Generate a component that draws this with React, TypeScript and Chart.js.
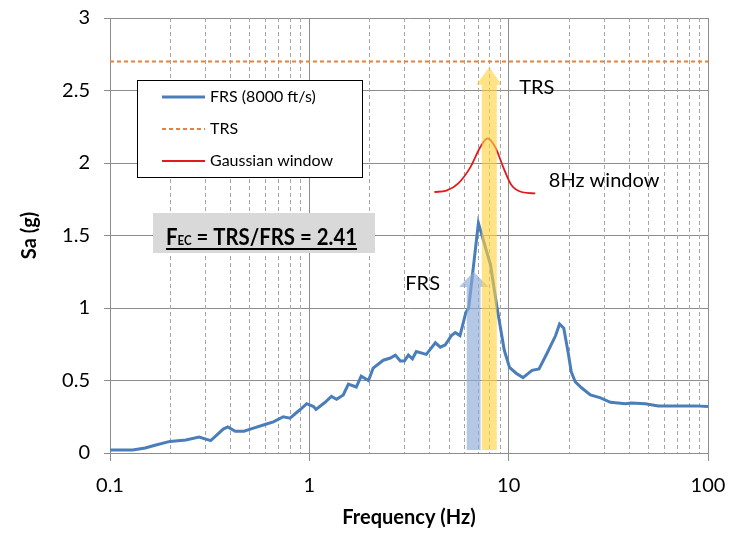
import React, { useEffect, useRef } from "react";
import { Chart, registerables } from "chart.js";
Chart.register(...registerables);

// ---------------- data ----------------
const frsFreq = [0.1, 0.13, 0.15, 0.17, 0.2, 0.24, 0.28, 0.32, 0.37, 0.39, 0.425, 0.47, 0.52, 0.61, 0.66, 0.74, 0.8, 0.9, 0.97, 1.05, 1.08, 1.2, 1.29, 1.37, 1.48, 1.57, 1.72, 1.82, 1.98, 2.09, 2.35, 2.55, 2.7, 2.86, 3.0, 3.14, 3.29, 3.44, 3.86, 4.29, 4.54, 4.8, 5.16, 5.4, 5.7, 6.1, 6.3, 7.05, 8.1, 8.75, 9.5, 10.1, 10.9, 11.8, 13.1, 14.2, 15.6, 17.2, 18.0, 18.9, 19.9, 20.6, 21.6, 23.2, 25.7, 28.9, 32.4, 38.5, 41.3, 48.5, 56.3, 68.5, 86.3, 100];
const frsSa = [0.02, 0.02, 0.035, 0.055, 0.08, 0.09, 0.11, 0.085, 0.165, 0.18, 0.15, 0.15, 0.17, 0.2, 0.215, 0.25, 0.24, 0.3, 0.34, 0.32, 0.3, 0.35, 0.39, 0.37, 0.4, 0.475, 0.455, 0.53, 0.5, 0.585, 0.64, 0.655, 0.675, 0.635, 0.635, 0.675, 0.65, 0.7, 0.68, 0.76, 0.73, 0.745, 0.81, 0.83, 0.81, 0.97, 1.0, 1.586, 1.3, 1.0, 0.71, 0.59, 0.55, 0.52, 0.57, 0.58, 0.69, 0.81, 0.89, 0.86, 0.69, 0.56, 0.49, 0.45, 0.4, 0.38, 0.35, 0.34, 0.345, 0.34, 0.325, 0.325, 0.325, 0.32];
const trsFreq = [0.1, 100];
const trsSa = [2.7, 2.7];
const gaussFreq = [4.24, 4.87, 5.59, 6.42, 7.21, 7.83, 8.56, 9.4, 10.3, 11.6, 13.6];
const gaussSa = [1.8, 1.81, 1.86, 1.97, 2.11, 2.17, 2.11, 1.97, 1.85, 1.8, 1.79];

const seriesLabels = ["FRS (8000 ft/s)", "TRS", "Gaussian window"];
const yTickValues = [0, 0.5, 1, 1.5, 2, 2.5, 3];
const xMajorTicks = [0.1, 1, 10, 100];
const xTickLabels = ["0.1", "1", "10", "100"];
const xMinorMultipliers = [2, 3, 4, 5, 6, 7, 8, 9];

// arrows (data units): shaft x-range, head x-range, base, neck, tip
const frsArrow = { x0: 6.16, x1: 7.23, hx0: 5.64, hx1: 7.94, base: 0.02, neck: 1.145, tip: 1.25 };
const trsArrow = { x0: 7.33, x1: 8.72, hx0: 6.87, hx1: 9.2, base: 0.02, neck: 2.54, tip: 2.66 };

const noteTexts = ["TRS", "8Hz window", "FRS"];
const noteFreq = [11.3, 15.9, 3.03];
const noteSa = [2.52, 1.88, 1.17];

const FONT = "Lato, 'Liberation Sans', sans-serif";

const allXTicks: number[] = [];
xMajorTicks.forEach((d, i) => {
  allXTicks.push(d);
  if (i < xMajorTicks.length - 1) xMinorMultipliers.forEach((m) => allXTicks.push(+(d * m).toPrecision(3)));
});

const isMajor = (v: number) => xMajorTicks.some((m) => Math.abs(m - v) < 1e-9);

const decoPlugin = {
  id: "deco",
  beforeDatasetsDraw(chart: any) {
    const { ctx, chartArea, scales } = chart;
    const x = scales.x;
    ctx.save();
    ctx.strokeStyle = "#a6a6a6";
    ctx.lineWidth = 1;
    ctx.setLineDash([4, 3]);
    allXTicks.filter((v) => !isMajor(v)).forEach((v) => {
      const px = Math.round(x.getPixelForValue(v)) + 0.5;
      ctx.beginPath();
      ctx.moveTo(px, chartArea.top);
      ctx.lineTo(px, chartArea.bottom);
      ctx.stroke();
    });
    ctx.restore();
  },
  afterDatasetsDraw(chart: any) {
    const { ctx, scales } = chart;
    const x = scales.x;
    const y = scales.y;
    const drawArrow = (a: any, color: string) => {
      ctx.save();
      ctx.fillStyle = color;
      ctx.beginPath();
      ctx.moveTo(x.getPixelForValue(a.x0), y.getPixelForValue(a.base));
      ctx.lineTo(x.getPixelForValue(a.x0), y.getPixelForValue(a.neck));
      ctx.lineTo(x.getPixelForValue(a.hx0), y.getPixelForValue(a.neck));
      ctx.lineTo((x.getPixelForValue(a.x0) + x.getPixelForValue(a.x1)) / 2, y.getPixelForValue(a.tip));
      ctx.lineTo(x.getPixelForValue(a.hx1), y.getPixelForValue(a.neck));
      ctx.lineTo(x.getPixelForValue(a.x1), y.getPixelForValue(a.neck));
      ctx.lineTo(x.getPixelForValue(a.x1), y.getPixelForValue(a.base));
      ctx.closePath();
      ctx.fill();
      ctx.restore();
    };
    drawArrow(frsArrow, "rgba(140,170,215,0.65)");
    drawArrow(trsArrow, "rgba(255,210,60,0.62)");

    // notes
    ctx.save();
    ctx.fillStyle = "#000";
    ctx.font = `20px ${FONT}`;
    ctx.textBaseline = "middle";
    ctx.textAlign = "left";
    noteTexts.forEach((t, i) => {
      ctx.fillText(t, x.getPixelForValue(noteFreq[i]), y.getPixelForValue(noteSa[i]));
    });
    ctx.restore();

    // legend box
    const ds = chart.data.datasets;
    ctx.save();
    const lx = 137, ly = 80, lw = 225, lh = 97;
    ctx.fillStyle = "#fff";
    ctx.fillRect(lx, ly, lw, lh);
    ctx.strokeStyle = "#000";
    ctx.lineWidth = 1;
    ctx.strokeRect(lx + 0.5, ly + 0.5, lw, lh);
    ds.forEach((d: any, i: number) => {
      const ry = ly + 17 + i * 32;
      ctx.save();
      ctx.strokeStyle = d.borderColor;
      ctx.lineWidth = d.borderWidth;
      ctx.setLineDash(d.borderDash || []);
      ctx.beginPath();
      ctx.moveTo(lx + 25, ry);
      ctx.lineTo(lx + 68, ry);
      ctx.stroke();
      ctx.restore();
      ctx.fillStyle = "#000";
      ctx.font = `16px ${FONT}`;
      ctx.textBaseline = "middle";
      ctx.fillText(d.label, lx + 73, ry);
    });
    ctx.restore();

    // formula box
    ctx.save();
    ctx.fillStyle = "#d9d9d9";
    ctx.fillRect(153, 213, 222, 40);
    ctx.fillStyle = "#000";
    ctx.textBaseline = "alphabetic";
    const bx = 166, by = 245, targetW = 191;
    const rest = " = TRS/FRS = 2.41";
    ctx.font = `bold 23px ${FONT}`;
    const wF = ctx.measureText("F").width;
    const wR = ctx.measureText(rest).width;
    ctx.font = `bold 13px ${FONT}`;
    const wE = ctx.measureText("EC").width;
    const k = targetW / (wF + wE + wR);
    ctx.translate(bx, by);
    ctx.scale(k, 1);
    ctx.font = `bold 23px ${FONT}`;
    ctx.fillText("F", 0, 0);
    ctx.font = `bold 13px ${FONT}`;
    ctx.fillText("EC", wF, 0);
    ctx.font = `bold 23px ${FONT}`;
    ctx.fillText(rest, wF + wE, 0);
    ctx.fillRect(0, 3, wF + wE + wR, 2);
    ctx.restore();
  },
};

export default function App() {
  const ref = useRef<HTMLCanvasElement>(null);
  useEffect(() => {
    if (!ref.current) return;
    const chart = new Chart(ref.current, {
      type: "line",
      data: {
        datasets: [
          {
            label: seriesLabels[0],
            data: frsFreq.map((f, i) => ({ x: f, y: frsSa[i] })),
            borderColor: "#4a7ebb",
            borderWidth: 3,
            pointRadius: 0,
            tension: 0,
          },
          {
            label: seriesLabels[1],
            data: trsFreq.map((f, i) => ({ x: f, y: trsSa[i] })),
            borderColor: "#e8823a",
            borderWidth: 2,
            borderDash: [4, 3],
            pointRadius: 0,
          },
          {
            label: seriesLabels[2],
            data: gaussFreq.map((f, i) => ({ x: f, y: gaussSa[i] })),
            borderColor: "#e31a1c",
            borderWidth: 1.8,
            pointRadius: 0,
            tension: 0.4,
            cubicInterpolationMode: "monotone",
          },
        ],
      },
      options: {
        animation: false,
        responsive: true,
        maintainAspectRatio: false,
        layout: { padding: { top: 18, right: 26, left: 0, bottom: 0 } },
        plugins: { legend: { display: false }, tooltip: { enabled: false } },
        scales: {
          x: {
            type: "logarithmic",
            min: 0.1,
            max: 100,
            afterBuildTicks: (s: any) => {
              s.ticks = allXTicks.map((v) => ({ value: v }));
            },
            afterFit: (s: any) => {
              s.height = 90;
              s.paddingLeft = 0;
              s.paddingRight = 0;
            },
            ticks: {
              autoSkip: false,
              maxRotation: 0,
              padding: 13,
              color: "#000",
              font: { family: FONT, size: 20 },
              callback: (v: any) => {
                const i = xMajorTicks.findIndex((m) => Math.abs(m - v) < 1e-9);
                return i >= 0 ? xTickLabels[i] : "";
              },
            },
            grid: {
              color: (c: any) => (c.tick && isMajor(c.tick.value) ? "#8c8c8c" : "rgba(0,0,0,0)"),
              tickColor: (c: any) => (c.tick && isMajor(c.tick.value) ? "#8c8c8c" : "rgba(0,0,0,0)"),
              tickLength: 8,
            },
            border: { color: "#8c8c8c" },
            title: {
              display: true,
              text: "Frequency (Hz)",
              color: "#000",
              font: { family: FONT, size: 20, weight: "bold" },
              padding: { top: 0, bottom: 13 },
            },
          },
          y: {
            min: 0,
            max: 3,
            afterBuildTicks: (s: any) => {
              s.ticks = yTickValues.map((v) => ({ value: v }));
            },
            afterFit: (s: any) => {
              s.width = 110;
              s.paddingTop = 0;
              s.paddingBottom = 0;
            },
            ticks: {
              padding: 14,
              color: "#000",
              font: { family: FONT, size: 20 },
              callback: (v: any) => String(v),
            },
            grid: { color: "#8c8c8c", tickColor: "#8c8c8c", tickLength: 6 },
            border: { color: "#8c8c8c" },
            title: {
              display: true,
              text: "Sa (g)",
              color: "#000",
              font: { family: FONT, size: 20, weight: "bold" },
              padding: { top: 18, bottom: 0 },
            },
          },
        },
      } as any,
      plugins: [decoPlugin],
    });
    return () => chart.destroy();
  }, []);
  return (
    <div style={{ position: "fixed", left: 0, top: 0, width: 734, height: 543, background: "#fff" }}>
      <canvas ref={ref} />
    </div>
  );
}
